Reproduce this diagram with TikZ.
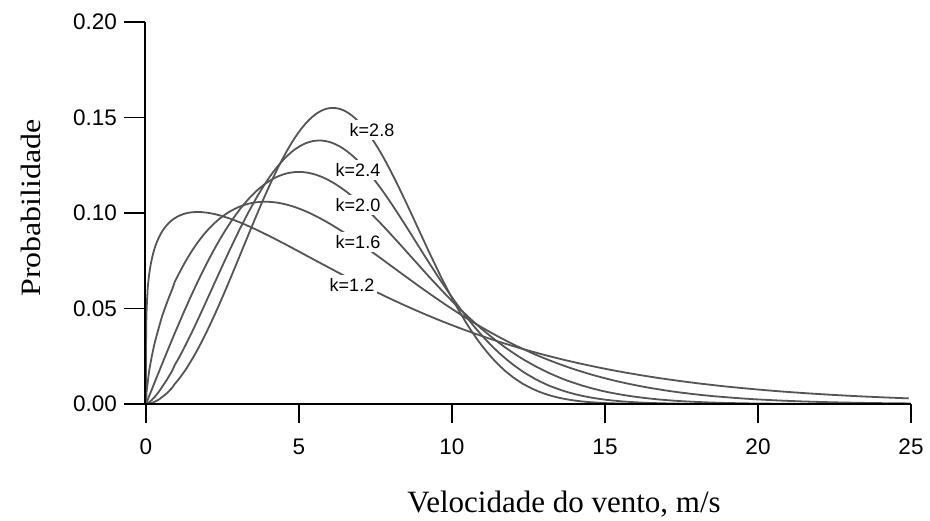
\documentclass[tikz,border=0pt]{standalone}
\usepackage{fontspec}
\setmainfont{Liberation Serif}
\newfontfamily\hv{Liberation Sans}
\definecolor{curvegray}{HTML}{555555}
\begin{document}
\begin{tikzpicture}[x=1pt,y=-1pt]
\tikzset{
  axisline/.style={line width=1.4pt, black},
  curve/.style={line width=1.8pt, draw=curvegray},
  ticklab/.style={font=\hv\fontsize{22.5}{27}\selectfont, inner sep=0pt},
  klab/.style={font=\hv\fontsize{18}{21}\selectfont, fill=white, inner sep=3pt},
  titlelab/.style={font=\fontsize{31}{36}\selectfont, inner sep=0pt},
  ytitlelab/.style={font=\fontsize{28}{32}\selectfont, inner sep=0pt}
}
\useasboundingbox[fill=white] (0,0) rectangle (930,520);
% curves
\begin{scope}[shift={(146,404)}, x=30.6pt, y=1910pt]
  \foreach \k/\c in {1.6/7.19, 2.0/7.06, 2.4/7.09, 2.8/7.15}{
    \draw[curve] (0,0) -- plot[domain=0.02:25, samples=300] (\x, {(\k/\c)*pow(\x/\c,\k-1)*exp(-pow(\x/\c,\k))});
  }
  \draw[curve] (0,0) -- plot[variable=\t, domain=0.02:1, samples=400] ({25*\t*\t*\t}, {0.20358*pow(\t,0.6)*exp(-4.2413*pow(\t,3.6))});
\end{scope}
% axes
\coordinate (ytop) at (145,22);
\coordinate (orig) at (145,404);
\coordinate (xend) at (911,404);
\draw[axisline] (ytop) -- (145,405);
\draw[axisline] (orig) -- (xend);
\foreach \v/\lab in {0/0.00, 0.05/0.05, 0.10/0.10, 0.15/0.15, 0.20/0.20}{
  \draw[axisline] (124,{404-\v*1910}) -- (145,{404-\v*1910});
  \node[ticklab, anchor=east] (yl\lab) at (117,{404-\v*1910}) {\lab};
}
\foreach \v in {0,5,10,15,20,25}{
  \draw[axisline] ({146+\v*30.6},404) -- ({146+\v*30.6},423);
  \node[ticklab, anchor=center] (xl\v) at ({146+\v*30.6},447) {\v};
}
% curve labels
\node[klab] (k28) at (372,130) {k=2.8};
\node[klab] (k24) at (358,170) {k=2.4};
\node[klab] (k20) at (358,205) {k=2.0};
\node[klab] (k16) at (358,242) {k=1.6};
\node[klab] (k12) at (352,285) {k=1.2};
% titles
\node[titlelab, anchor=base] (xtitle) at (564,512) {Velocidade do vento, m/s};
\node[ytitlelab, rotate=90, xscale=1.14, anchor=base] (ytitle) at (40,208) {Probabilidade};
\end{tikzpicture}
\end{document}
